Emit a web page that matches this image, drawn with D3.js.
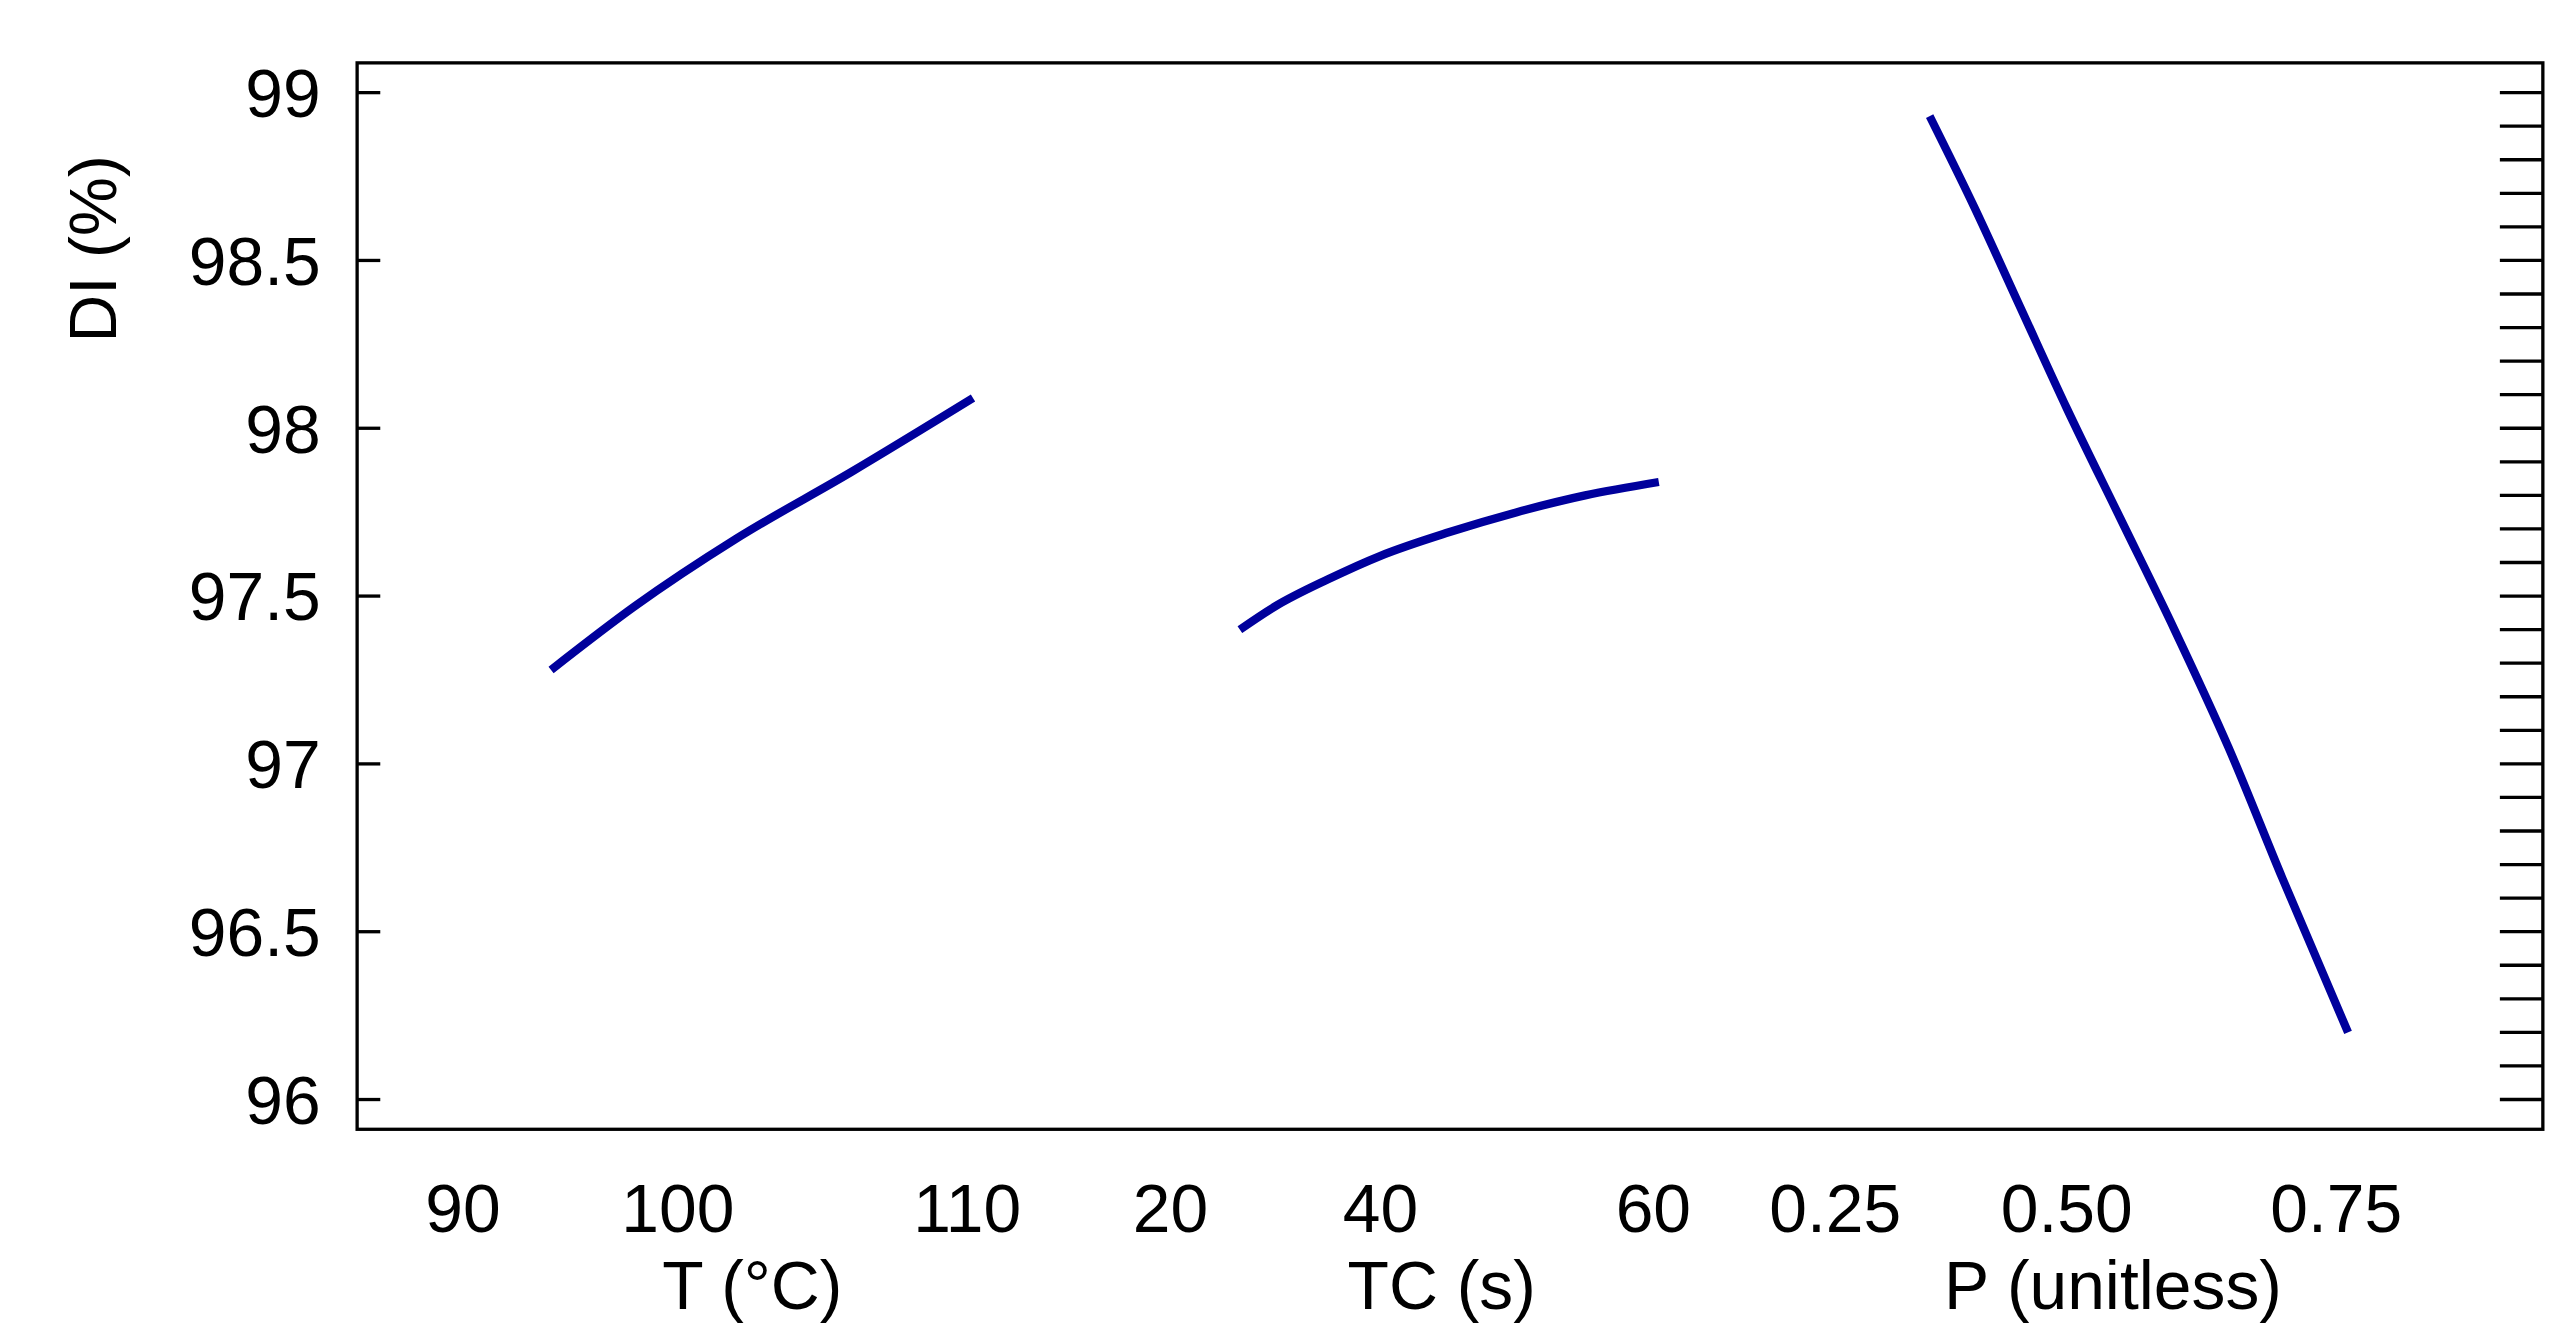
<!DOCTYPE html><html><head><meta charset="utf-8"><script src="https://cdn.jsdelivr.net/npm/d3@7"></script>
<style>body{margin:0;background:#fff}</style></head><body><script>
const yTicks=[96,96.5,97,97.5,98,98.5,99];
const tTicks=[90,100,110], tcTicks=[20,40,60], pTicks=[0.25,0.50,0.75];
const tX=[94.1,98,102,106,110.2], tY=[97.28,97.47,97.67,97.87,98.09];
const tcX=[26.6,30,35,40,45,50,55,60.4], tcY=[97.40,97.47,97.55,97.62,97.69,97.75,97.80,97.84];
const pX=[0.352,0.40,0.45,0.50,0.55,0.60,0.65,0.70,0.761], pY=[98.93,98.66,98.36,98.06,97.73,97.40,97.05,96.66,96.20];
const W=1552,H=808;
const svg=d3.select("body").append("svg").attr("width",2566).attr("height",1336).attr("viewBox",`0 0 ${W} ${H}`);
const L=216,R=1538,T=38,B=683;
const y=d3.scaleLinear().domain([96,99]).range([665,56]);
svg.append("rect").attr("x",L).attr("y",T).attr("width",R-L).attr("height",B-T).attr("fill","none").attr("stroke","#000").attr("stroke-width",2);
const font="Liberation Sans, Arial, sans-serif";
yTicks.forEach(v=>{
 svg.append("line").attr("x1",L).attr("x2",L+14).attr("y1",y(v)).attr("y2",y(v)).attr("stroke","#000").attr("stroke-width",2);
 svg.append("text").attr("x",L-22).attr("y",y(v)).attr("dy","0.36em").attr("text-anchor","end").attr("font-family",font).attr("font-size",41).text(v);
});
d3.range(0,31).map(i=>96+i*0.1).filter(v=>y(v)>T&&y(v)<B).forEach(v=>{
 svg.append("line").attr("x1",R-26).attr("x2",R).attr("y1",y(v)).attr("y2",y(v)).attr("stroke","#000").attr("stroke-width",2);
});
svg.append("text").attr("transform",`translate(70,${y(97.5)-210}) rotate(-90)`).attr("text-anchor","middle").attr("font-family",font).attr("font-size",40).text("DI (%)");
const panels=[
 {ticks:tTicks,range:[280,410,585],xs:tX,ys:tY,label:"T (°C)",lx:455,fmt:d=>d},
 {ticks:tcTicks,range:[708,835,1000],xs:tcX,ys:tcY,label:"TC (s)",lx:872,fmt:d=>d},
 {ticks:pTicks,range:[1110,1250,1413],xs:pX,ys:pY,label:"P (unitless)",lx:1278,fmt:d3.format(".2f")}];
panels.forEach(p=>{
 const x=d3.scaleLinear().domain(p.ticks).range(p.range);
 p.ticks.forEach(t=>svg.append("text").attr("x",x(t)).attr("y",745).attr("text-anchor","middle").attr("font-family",font).attr("font-size",41).text(p.fmt(t)));
 svg.append("text").attr("x",p.lx).attr("y",792).attr("text-anchor","middle").attr("font-family",font).attr("font-size",41).text(p.label);
 const pts=p.xs.map((v,i)=>[x(v),y(p.ys[i])]);
 svg.append("path").attr("d",d3.line().curve(d3.curveMonotoneX)(pts)).attr("fill","none").attr("stroke","#00009c").attr("stroke-width",5);
});
</script></body></html>
